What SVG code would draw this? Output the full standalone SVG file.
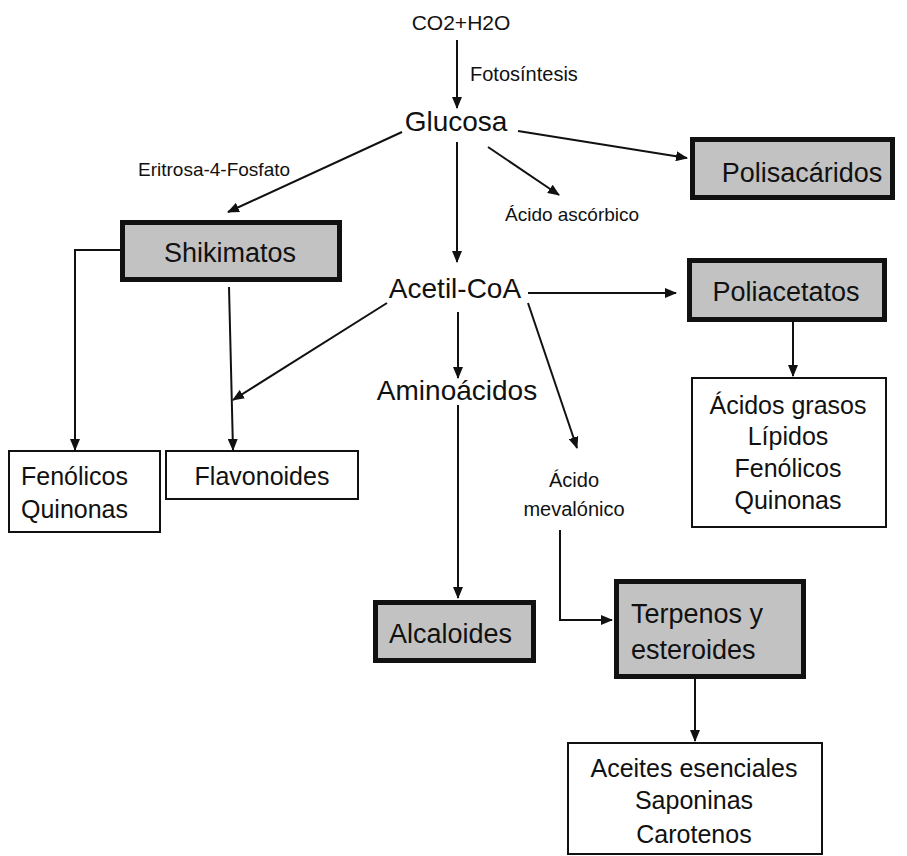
<svg xmlns="http://www.w3.org/2000/svg" width="907" height="856" viewBox="0 0 907 856">
<style>
text { font-family: "Liberation Sans", Arial, sans-serif; fill: #111; }
.big { font-size: 28px; }
.box { font-size: 27px; }
.mid { font-size: 25px; }
.small { font-size: 20px; }
.c { text-anchor: middle; }
.gray { fill: #c2c2c2; stroke: #111; stroke-width: 5; }
.white { fill: #fff; stroke: #111; stroke-width: 2; }
.conn { fill: none; stroke: #111; stroke-width: 2; marker-end: url(#arr); }
</style>
<defs>
<marker id="arr" markerUnits="userSpaceOnUse" markerWidth="12" markerHeight="10" refX="11" refY="5" orient="auto">
<path d="M0,0 L12,5 L0,10 z" fill="#111"/>
</marker>
</defs>
<rect width="907" height="856" fill="#fff"/>
<g id="connectors">
<line class="conn" x1="457" y1="40" x2="457" y2="108"/>
<line class="conn" x1="402" y1="132" x2="228" y2="212"/>
<line class="conn" x1="518" y1="131" x2="687" y2="158"/>
<line class="conn" x1="488" y1="147" x2="559" y2="195"/>
<line class="conn" x1="457" y1="142" x2="457" y2="262"/>
<polyline class="conn" points="120,250 75,250 75,450"/>
<line class="conn" x1="229" y1="287" x2="233" y2="450"/>
<line class="conn" x1="387" y1="303" x2="233" y2="400"/>
<line class="conn" x1="528" y1="293" x2="676" y2="293"/>
<line class="conn" x1="458" y1="312" x2="458" y2="378"/>
<line class="conn" x1="528" y1="303" x2="577" y2="448"/>
<line class="conn" x1="458" y1="405" x2="458" y2="598"/>
<polyline class="conn" points="560,530 560,620 612,620"/>
<line class="conn" x1="793" y1="322" x2="793" y2="376"/>
<line class="conn" x1="695" y1="679" x2="695" y2="741"/>
</g>
<g id="co2h2o"><text class="c" x="461" y="30" style="font-size:21px">CO2+H2O</text></g>
<g id="fotosintesis"><text class="small" x="470" y="81">Fotosíntesis</text></g>
<g id="glucosa"><text class="big c" x="456" y="131">Glucosa</text></g>
<g id="eritrosa"><text x="138" y="176" style="font-size:19px">Eritrosa-4-Fosfato</text></g>
<g id="polisacaridos">
<rect class="gray" x="692.5" y="139.5" width="200" height="58"/>
<text class="box c" x="802" y="182">Polisacáridos</text>
</g>
<g id="ascorbico"><text x="505" y="221" style="font-size:19px">Ácido ascórbico</text></g>
<g id="shikimatos">
<rect class="gray" x="122.5" y="222.5" width="217" height="57"/>
<text class="box c" x="230" y="262">Shikimatos</text>
</g>
<g id="acetilcoa"><text class="big c" x="455" y="298">Acetil-CoA</text></g>
<g id="poliacetatos">
<rect class="gray" x="689.5" y="260.5" width="195" height="59"/>
<text class="box c" x="786" y="301">Poliacetatos</text>
</g>
<g id="aminoacidos"><text class="big c" x="457" y="400">Aminoácidos</text></g>
<g id="fenolicos">
<rect class="white" x="9" y="451" width="151" height="81"/>
<text class="mid" x="21" y="485">Fenólicos</text>
<text class="mid" x="21" y="518">Quinonas</text>
</g>
<g id="flavonoides">
<rect class="white" x="166" y="451" width="192" height="48"/>
<text class="mid c" x="262" y="485">Flavonoides</text>
</g>
<g id="acidos">
<rect class="white" x="692" y="378" width="194" height="149"/>
<text class="mid c" x="788" y="414">Ácidos grasos</text>
<text class="mid c" x="788" y="445">Lípidos</text>
<text class="mid c" x="788" y="477">Fenólicos</text>
<text class="mid c" x="788" y="509">Quinonas</text>
</g>
<g id="mevalonico">
<text class="small c" x="574" y="487">Ácido</text>
<text class="small c" x="574" y="516">mevalónico</text>
</g>
<g id="alcaloides">
<rect class="gray" x="375.5" y="602.5" width="158" height="58"/>
<text class="box" x="389" y="643">Alcaloides</text>
</g>
<g id="terpenos">
<rect class="gray" x="616.5" y="581.5" width="187" height="95"/>
<text class="box" x="631" y="623">Terpenos y</text>
<text class="box" x="631" y="659">esteroides</text>
</g>
<g id="aceites">
<rect class="white" x="568" y="743" width="254" height="111"/>
<text class="mid c" x="694" y="777">Aceites esenciales</text>
<text class="mid c" x="694" y="809">Saponinas</text>
<text class="mid c" x="694" y="843">Carotenos</text>
</g>
</svg>
